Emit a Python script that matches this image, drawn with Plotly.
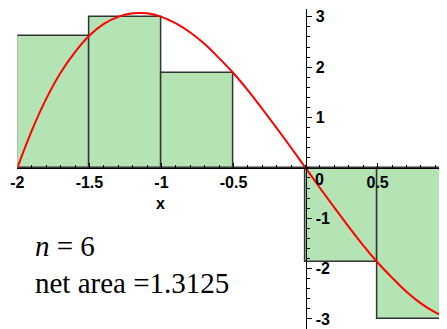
import plotly.graph_objects as go

# curve
curve_x = [-2.0, -1.9, -1.8, -1.7, -1.6, -1.5, -1.4, -1.3, -1.2, -1.1, -1.0,
           -0.9, -0.8, -0.7, -0.6, -0.5, -0.4, -0.3, -0.2, -0.1, 0.0,
           0.1, 0.2, 0.3, 0.4, 0.5, 0.6, 0.7, 0.8, 0.9, 1.0]
curve_y = [0.0, 0.74, 1.37, 1.89, 2.30, 2.63, 2.86, 3.00, 3.07, 3.07, 3.0,
           2.87, 2.69, 2.46, 2.18, 1.88, 1.54, 1.17, 0.79, 0.40, 0.0,
           -0.40, -0.79, -1.17, -1.54, -1.88, -2.18, -2.46, -2.69, -2.87, -3.0]

# riemann rectangles (right endpoints)
rect_left = [-2.0, -1.5, -1.0, -0.5, 0.0, 0.5]
rect_height = [2.625, 3.0, 1.875, 0.0, -1.875, -3.0]
rect_width = 0.5

x_ticks = [-2, -1.5, -1, -0.5, 0.5, 1]
x_labels = ['-2', '-1.5', '-1', '-0.5', '0.5', '1']
y_ticks = [-3, -2, -1, 1, 2, 3]
y_labels = ['-3', '-2', '-1', '1', '2', '3']

n_text = '<i>n</i> = 6'
area_text = 'net area =1.3125'

W, H = 447, 321
xr = [-2.0, 1.037]
yr = [-3.2, 3.156]
xdom = [2.4 / W, 1]
ydom = [0, 1]

# where the axes cross (paper coords)
ypos = xdom[0] + (0 - xr[0]) / (xr[1] - xr[0]) * (xdom[1] - xdom[0])
xpos = ydom[0] + (0 - yr[0]) / (yr[1] - yr[0]) * (ydom[1] - ydom[0])

bold = dict(family='Liberation Sans', size=16, color='black', weight='bold')
serif = dict(family='Liberation Serif', size=29, color='black')

fig = go.Figure()
fig.add_trace(go.Bar(x=rect_left, y=rect_height, width=rect_width, offset=0,
                     marker=dict(color='#b4e4b4', line=dict(color='#333333', width=1.5))))
fig.add_trace(go.Scatter(x=curve_x, y=curve_y, mode='lines', line_shape='spline',
                         line=dict(color='#ff0000', width=2)))

fig.update_layout(
    width=W, height=H, margin=dict(l=0, r=0, t=0, b=0),
    plot_bgcolor='white', paper_bgcolor='white', showlegend=False,
    bargap=0,
    xaxis=dict(range=xr, domain=xdom, anchor='free', position=xpos, side='bottom',
               showline=True, linecolor='black', linewidth=1, showgrid=False, zeroline=False,
               tickvals=x_ticks, ticktext=x_labels, ticks='inside', ticklen=5,
               tickcolor='black', tickfont=bold, ticklabeloverflow='allow',
               minor=dict(tick0=0, dtick=0.1, ticks='inside', ticklen=3, tickcolor='black',
                          showgrid=False)),
    yaxis=dict(range=yr, domain=ydom, anchor='free', position=ypos, side='right',
               showline=True, linecolor='black', linewidth=1, showgrid=False, zeroline=False,
               tickvals=y_ticks, ticktext=y_labels, ticks='outside', ticklen=5,
               tickcolor='black', tickfont=bold, ticklabelstandoff=1,
               ticklabeloverflow='allow',
               minor=dict(tick0=0, dtick=0.2, ticks='outside', ticklen=3, tickcolor='black',
                          showgrid=False)),
)

fig.add_annotation(x=0.1, y=0, yref='y', xref='x', text='0', showarrow=False,
                   yanchor='top', yshift=-1, font=bold)
fig.add_annotation(x=-1.01, y=-0.7, text='x', showarrow=False, font=bold)
fig.add_annotation(x=18 / W, y=1 - 256 / H, xref='paper', yref='paper', text=n_text,
                   showarrow=False, xanchor='left', font=serif)
fig.add_annotation(x=18 / W, y=1 - 293 / H, xref='paper', yref='paper', text=area_text,
                   showarrow=False, xanchor='left', font=serif)

fig.write_html('out.html')
